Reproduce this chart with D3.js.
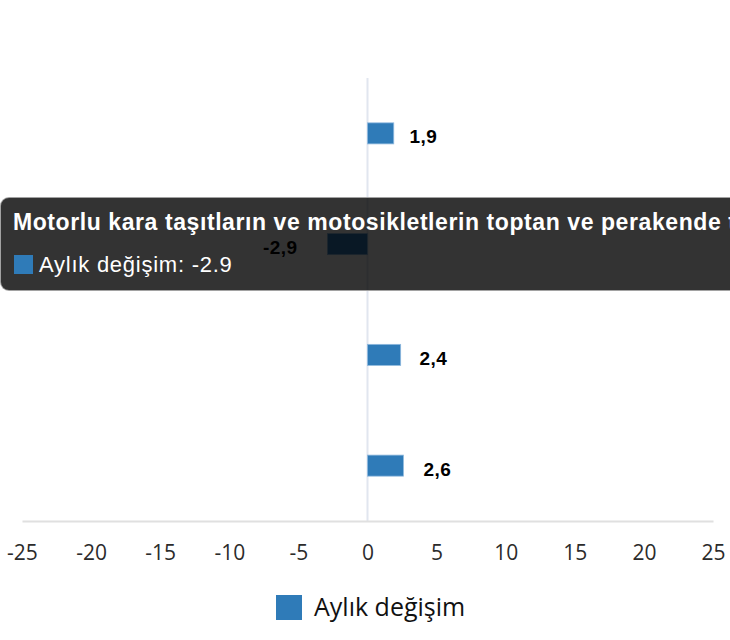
<!DOCTYPE html>
<html>
<head>
<meta charset="utf-8">
<script src="https://cdn.jsdelivr.net/npm/d3@7"></script>
<style>
  body { margin: 0; width: 730px; height: 640px; overflow: hidden; background: #fff; position: relative; }
  #chart { position: absolute; left: 0; top: 0; }
  .tick text { font-family: "Open Sans", sans-serif; fill: #2b2b2b; }
  .bar-label { font-family: "Liberation Sans", Arial, sans-serif; font-weight: bold; font-size: 19px; letter-spacing: 0.4px; fill: #000; }
  .legend-text { font-family: "Open Sans", sans-serif; font-size: 25px; fill: #111; }
  .tooltip {
    position: absolute; left: 0; top: 197px; width: 780px; height: 94px;
    background: rgba(0, 0, 0, 0.8); border-radius: 9px; box-sizing: border-box;
    border: 1px solid rgba(210, 210, 210, 0.7);
    font-family: "Liberation Sans", Arial, sans-serif; color: #fff; white-space: nowrap;
  }
  .tooltip .title { position: absolute; left: 12px; top: 11px; font-weight: bold; font-size: 23px; letter-spacing: 0.58px; }
  .tooltip .row { position: absolute; left: 13px; top: 54px; font-size: 22px; letter-spacing: 0.75px; }
  .tooltip .swatch { display: inline-block; width: 19px; height: 19px; background: #2f7bb8; vertical-align: -2px; margin-right: 6px; }
</style>
</head>
<body>
<svg id="chart" width="730" height="640"></svg>
<script>
// categories (NACE bölümleri) and monthly change values
const categories = [
  "Toptan ve perakende ticaret",
  "Motorlu kara taşıtların ve motosikletlerin toptan ve perakende ticareti ile onarımı",
  "Toptan ticaret (motorlu kara taşıtları ve motosikletler hariç)",
  "Perakende ticaret (motorlu kara taşıtları ve motosikletler hariç)"
];
const monthlyChange = [1.9, -2.9, 2.4, 2.6];
const xTicks = [-25, -20, -15, -10, -5, 0, 5, 10, 15, 20, 25];
const seriesName = "Aylık değişim";
const hovered = 1; // bar under the tooltip

const data = categories.map((c, i) => ({ name: c, value: monthlyChange[i] }));

const margin = { top: 78, right: 17, bottom: 119, left: 22 },
  width = 730,
  height = 640,
  innerWidth = width - margin.left - margin.right,
  innerHeight = height - margin.top - margin.bottom;

const svg = d3.select('#chart');
const g = svg.append('g').attr('transform', `translate(${margin.left},${margin.top})`);

const x_Scale = d3.scaleLinear().domain([-25, 25]).range([0, innerWidth]);
const y_Scale = d3.scaleBand().domain(categories).range([0, innerHeight]).paddingInner(0.81).paddingOuter(0.405);

// zero line
g.append('line')
  .attr('x1', x_Scale(0)).attr('x2', x_Scale(0))
  .attr('y1', 0).attr('y2', innerHeight)
  .attr('stroke', '#e1e6ef').attr('stroke-width', 2);

// x axis
const xAxis = g.append('g').attr('class', 'x axis').attr('transform', `translate(0,${innerHeight})`)
  .call(d3.axisBottom(x_Scale).tickValues(xTicks).tickSize(0).tickPadding(24).tickFormat(d => d));
xAxis.select('.domain').attr('stroke', '#e0e0e0').attr('stroke-width', 2);
xAxis.selectAll('text').style('font-size', '21px');

// bars
g.selectAll('.bar').data(data).join('rect').attr('class', 'bar')
  .attr('x', d => x_Scale(Math.min(0, d.value)))
  .attr('width', d => Math.abs(x_Scale(d.value) - x_Scale(0)))
  .attr('y', d => y_Scale(d.name))
  .attr('height', y_Scale.bandwidth())
  .attr('fill', '#2f7bb8')
  .attr('stroke', '#8fb9de').attr('stroke-width', 0.8);

// value labels (pushed out a bit more for longer bars)
const labelX = d => {
  const len = x_Scale(d.value) - x_Scale(0);
  return d.value < 0 ? x_Scale(d.value) - 30 : x_Scale(d.value) + len * 0.45 + 4;
};
g.selectAll('.bar-label').data(data).join('text').attr('class', 'bar-label')
  .attr('x', labelX)
  .attr('y', d => y_Scale(d.name) + y_Scale.bandwidth() / 2 + 10)
  .attr('text-anchor', d => d.value < 0 ? 'end' : 'start')
  .text(d => d.value.toFixed(1).replace('.', ','));

// legend
const legend = svg.append('g').attr('transform', 'translate(276,595)');
legend.append('rect').attr('width', 26).attr('height', 25).attr('fill', '#2f7bb8');
legend.append('text').attr('class', 'legend-text').attr('x', 38).attr('y', 21).text(seriesName);

// tooltip for hovered bar
const d = data[hovered];
const tip = d3.select('body').append('div').attr('class', 'tooltip');
tip.append('div').attr('class', 'title').text(d.name);
const row = tip.append('div').attr('class', 'row');
row.append('span').attr('class', 'swatch');
row.append('span').text(`${seriesName}: ${d.value}`);
</script>
</body>
</html>
